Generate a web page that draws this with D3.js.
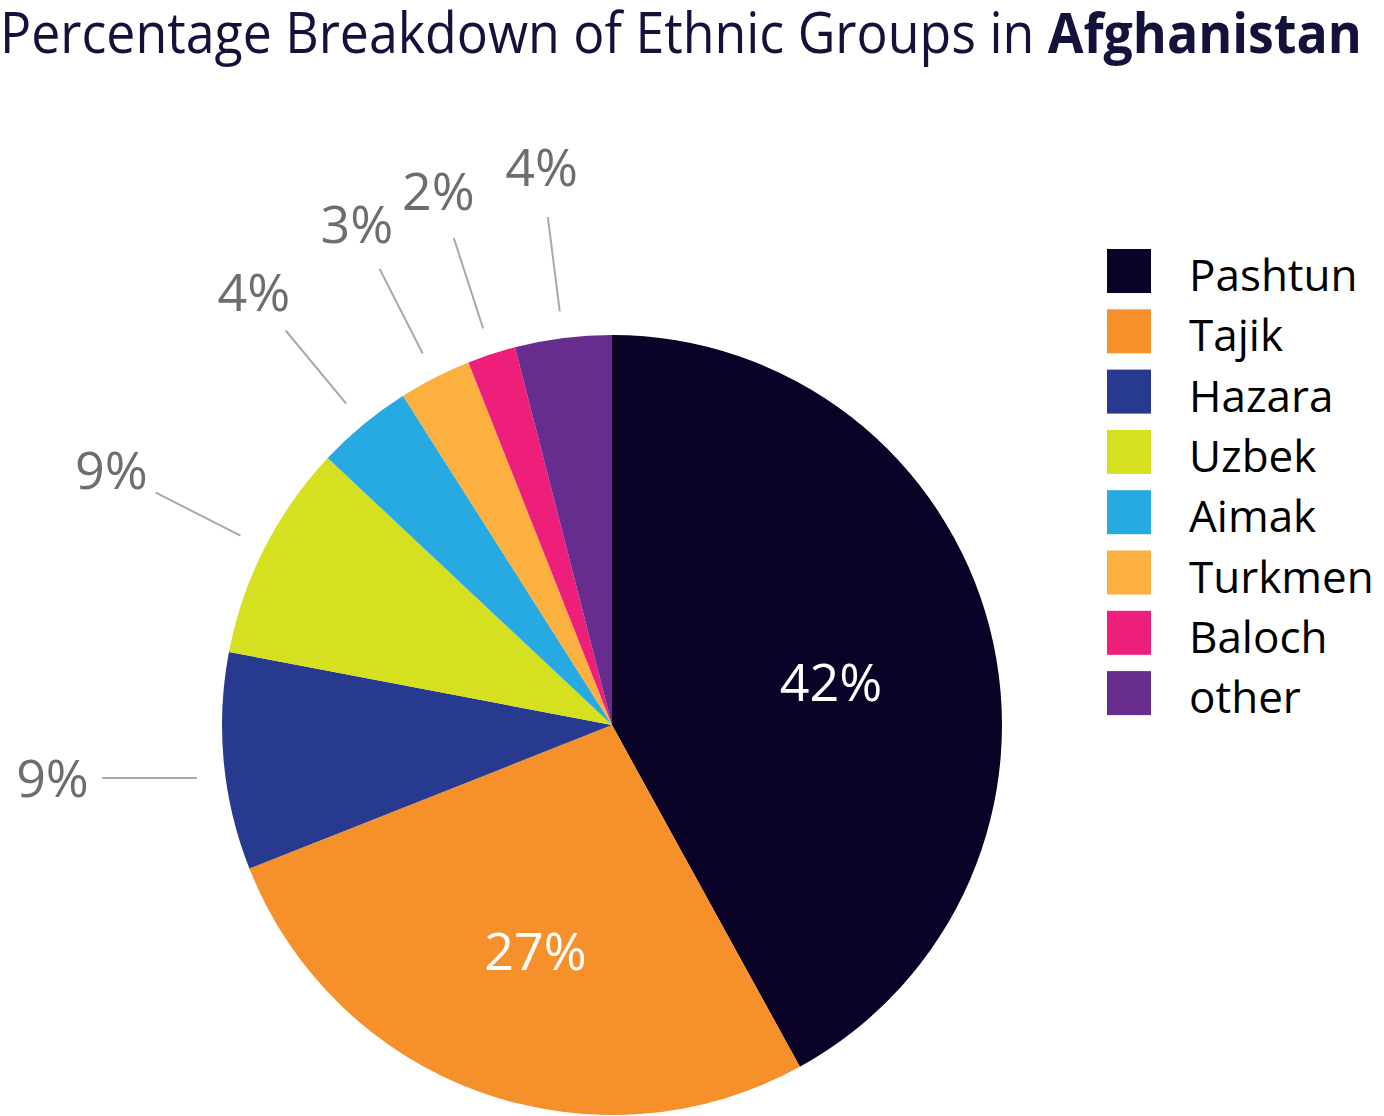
<!DOCTYPE html>
<html>
<head>
<meta charset="utf-8">
<script src="https://d3js.org/d3.v7.min.js"></script>
<style>
  body { margin: 0; background: #fff; }
  text { font-family: "Open Sans", sans-serif; }
</style>
</head>
<body>
<svg width="1384" height="1116"></svg>
<script>
  // data
  var groups = ["Pashtun", "Tajik", "Hazara", "Uzbek", "Aimak", "Turkmen", "Baloch", "other"];
  var shares = [42, 27, 9, 9, 4, 3, 2, 4];
  var colors = ["#0b0228", "#f6902a", "#283a8f", "#d5e021", "#27aae1", "#fbb040", "#ed1f7a", "#662d8e"];
  // which slices get their label inside, which get a horizontal leader
  var inside = [true, true, false, false, false, false, false, false];
  var flatLeader = [false, false, true, false, false, false, false, false];

  var svg = d3.select("svg"),
    width = +svg.attr("width"),
    height = +svg.attr("height");

  var cx = 612, cy = 725, radius = 390;

  // title (squeezed to the reference width, Myriad is narrower than Open Sans)
  var title = svg.append("text")
    .attr("y", 53)
    .attr("fill", "#14123a")
    .attr("font-size", 56);
  title.append("tspan").text("Percentage Breakdown of Ethnic Groups in ");
  title.append("tspan").attr("font-weight", "bold").text("Afghanistan");
  var tw = title.node().getComputedTextLength();
  title.attr("transform", "scale(" + (1362 / tw) + ",1)");

  var rows = groups.map(function(g, i) {
    return { name: g, value: shares[i], color: colors[i], inside: inside[i], flat: flatLeader[i] };
  });

  var pie = d3.pie().sort(null).value(function(d) { return d.value; });
  var arcs = pie(rows);

  var arc = d3.arc().innerRadius(0).outerRadius(radius);
  var g = svg.append("g").attr("transform", "translate(" + cx + "," + cy + ")");

  g.selectAll("path")
    .data(arcs).enter().append("path")
    .attr("d", arc)
    .attr("fill", function(d) { return d.data.color; });

  function polar(a, r) { return [Math.sin(a) * r, -Math.cos(a) * r]; }
  function mid(d) { return (d.startAngle + d.endAngle) / 2; }

  // labels inside the big slices
  g.selectAll("text.in")
    .data(arcs.filter(function(d) { return d.data.inside; })).enter().append("text")
    .attr("class", "in")
    .attr("x", function(d) { return polar(mid(d), 226)[0]; })
    .attr("y", function(d) { return polar(mid(d), 226)[1] + 32; })
    .attr("text-anchor", "middle")
    .attr("font-size", 52)
    .attr("fill", "#fff")
    .text(function(d) { return d.data.value + "%"; });

  // outside labels with leader lines
  var outs = arcs.filter(function(d) { return !d.data.inside; });
  var rIn = 417, rOut = 512, rLab = 562;

  g.selectAll("line.lead")
    .data(outs).enter().append("line")
    .attr("class", "lead")
    .attr("x1", function(d) { return polar(mid(d), rIn)[0]; })
    .attr("y1", function(d) { return d.data.flat ? polar(mid(d), rLab)[1] : polar(mid(d), rIn)[1]; })
    .attr("x2", function(d) { return polar(mid(d), rOut)[0]; })
    .attr("y2", function(d) { return d.data.flat ? polar(mid(d), rLab)[1] : polar(mid(d), rOut)[1]; })
    .attr("stroke", "#a7a9ac")
    .attr("stroke-width", 2);

  g.selectAll("text.out")
    .data(outs).enter().append("text")
    .attr("class", "out")
    .attr("x", function(d) { return polar(mid(d), rLab)[0]; })
    .attr("y", function(d) { return polar(mid(d), rLab)[1] + 19; })
    .attr("text-anchor", "middle")
    .attr("font-size", 52)
    .attr("fill", "#6d6e71")
    .text(function(d) { return d.data.value + "%"; });

  // legend
  var legend = svg.append("g").attr("transform", "translate(1107,249)");
  var item = legend.selectAll("g")
    .data(rows).enter().append("g")
    .attr("transform", function(d, i) { return "translate(0," + (i * 60.3) + ")"; });
  item.append("rect")
    .attr("width", 44)
    .attr("height", 44)
    .attr("fill", function(d) { return d.color; });
  item.append("text")
    .attr("x", 82)
    .attr("y", 42)
    .attr("font-size", 44)
    .attr("fill", "#000")
    .text(function(d) { return d.name; });
</script>
</body>
</html>
